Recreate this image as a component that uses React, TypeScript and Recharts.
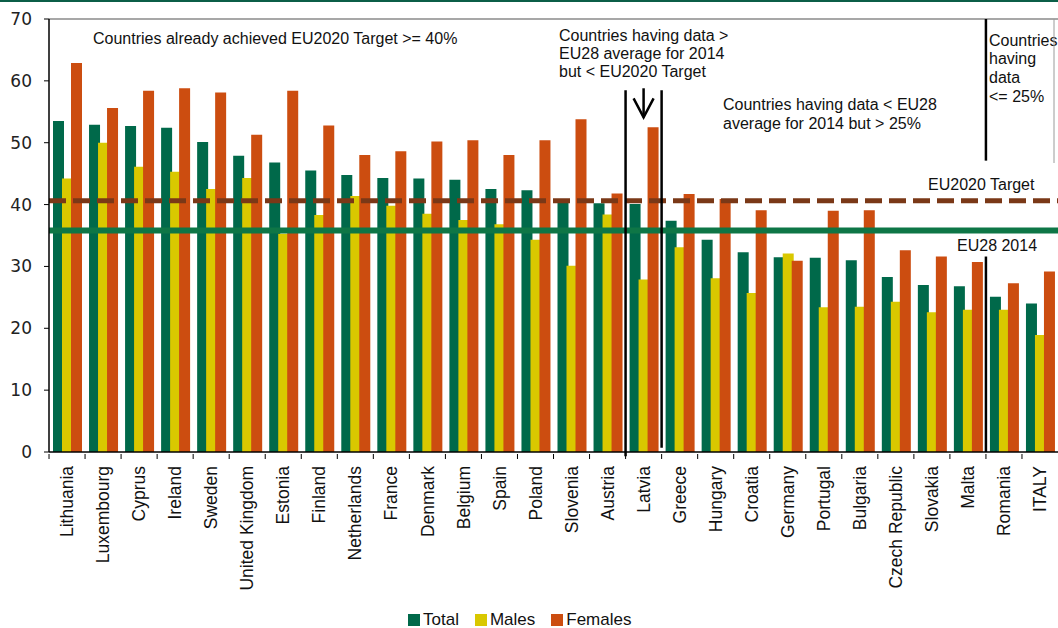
import React from "react"
import { BarChart, Bar, XAxis, YAxis, ReferenceLine } from "recharts"

const countries = [
  "Lithuania", "Luxembourg", "Cyprus", "Ireland", "Sweden", "United Kingdom", "Estonia",
  "Finland", "Netherlands", "France", "Denmark", "Belgium", "Spain", "Poland", "Slovenia",
  "Austria", "Latvia", "Greece", "Hungary", "Croatia", "Germany", "Portugal", "Bulgaria",
  "Czech Republic", "Slovakia", "Malta", "Romania", "ITALY",
]
const total = [
  53.5, 52.9, 52.7, 52.4, 50.1, 47.9, 46.8, 45.5, 44.8, 44.3, 44.2, 44.0, 42.5, 42.3,
  40.8, 40.2, 40.1, 37.4, 34.3, 32.3, 31.5, 31.4, 31.0, 28.3, 27.0, 26.8, 25.1, 24.0,
]
const males = [
  44.2, 50.0, 46.1, 45.3, 42.5, 44.3, 35.3, 38.3, 41.4, 39.8, 38.5, 37.5, 36.8, 34.3,
  30.1, 38.4, 27.9, 33.1, 28.1, 25.7, 32.1, 23.4, 23.5, 24.3, 22.6, 23.0, 23.0, 18.9,
]
const females = [
  62.9, 55.6, 58.4, 58.8, 58.1, 51.3, 58.4, 52.8, 48.0, 48.6, 50.2, 50.4, 48.0, 50.4,
  53.8, 41.8, 52.5, 41.7, 40.9, 39.1, 30.9, 39.0, 39.1, 32.6, 31.6, 30.7, 27.3, 29.2,
]
const yTicks = [0, 10, 20, 30, 40, 50, 60, 70]
const eu2020Target = 40.6
const eu28Average = 35.8

const GREEN = "#00694a"
const YELLOW = "#d9c800"
const ORANGE = "#cc4d10"
const FONT = "'Liberation Sans', Arial, sans-serif"

const data = countries.map((country, i) => ({
  country,
  total: total[i],
  males: males[i],
  females: females[i],
}))

// rotated category label + boundary tick (Excel style)
function CountryTick({ x, y, payload }: any) {
  const ty = y + 12
  return (
    <g>
      <line x1={x - 18} x2={x - 18} y1={y} y2={y + 5} stroke="#000" strokeWidth={1} />
      <text
        x={x}
        y={ty}
        dy="0.35em"
        textAnchor="end"
        transform={`rotate(-90, ${x}, ${ty})`}
        fontSize={17.5}
        fontFamily={FONT}
        fill="#111"
      >
        {payload.value}
      </text>
    </g>
  )
}

function DownArrow(props: any) {
  const { x1, y1, x2, y2 } = props
  return (
    <g>
      <line x1={x1} y1={y1} x2={x2} y2={y2} stroke="#000" strokeWidth={2.5} />
      <polyline
        points={`${x2 - 10},${y2 - 19} ${x2},${y2} ${x2 + 10},${y2 - 19}`}
        fill="none"
        stroke="#000"
        strokeWidth={2.5}
      />
    </g>
  )
}

const legendItems = [
  { name: "Total", color: GREEN },
  { name: "Males", color: YELLOW },
  { name: "Females", color: ORANGE },
]

export default function App() {
  return (
    <div style={{ position: "absolute", top: 0, left: 0, width: 1058, height: 628, background: "#fff", fontFamily: FONT }}>
      <div style={{ position: "absolute", top: 0, left: 0, width: 1058, height: 2, background: "#0b5e47" }} />
      <BarChart
        width={1058}
        height={628}
        data={data}
        margin={{ top: 19, right: 0, bottom: 0, left: 0 }}
        barSize={11}
        barGap={-2}
      >
        <XAxis
          dataKey="country"
          height={176}
          interval={0}
          tickSize={0}
          tickLine={false}
          axisLine={{ stroke: "#000", strokeWidth: 1.5 }}
          tick={<CountryTick />}
        />
        <YAxis
          width={49}
          domain={[0, 70]}
          ticks={yTicks}
          interval={0}
          tickSize={5}
          tickMargin={12}
          axisLine={{ stroke: "#000", strokeWidth: 1.5 }}
          tickLine={{ stroke: "#000" }}
          tick={{ fontSize: 17, fill: "#222", fontFamily: "'DejaVu Sans', sans-serif" }}
        />
        <ReferenceLine y={70} stroke="#8a8a8a" strokeWidth={1.5} />
        <Bar dataKey="total" name="Total" fill={GREEN} isAnimationActive={false} />
        <Bar dataKey="males" name="Males" fill={YELLOW} isAnimationActive={false} />
        <Bar dataKey="females" name="Females" fill={ORANGE} isAnimationActive={false} />
        <ReferenceLine y={eu2020Target} stroke="#7a3817" strokeWidth={5} strokeDasharray="17 7" />
        <ReferenceLine y={eu28Average} stroke="#0e7646" strokeWidth={6} />
        <ReferenceLine
          segment={[{ x: "Latvia", y: 58.5 }, { x: "Latvia", y: -0.7 }]}
          position="start"
          ifOverflow="visible"
          stroke="#000"
          strokeWidth={2.5}
        />
        <ReferenceLine
          segment={[{ x: "Greece", y: 58.5 }, { x: "Greece", y: 0.7 }]}
          position="start"
          ifOverflow="visible"
          stroke="#000"
          strokeWidth={2.5}
        />
        <ReferenceLine
          segment={[{ x: "Romania", y: 70 }, { x: "Romania", y: 47.1 }]}
          position="start"
          stroke="#000"
          strokeWidth={2.5}
        />
        <ReferenceLine
          segment={[{ x: "Romania", y: 31.6 }, { x: "Romania", y: 0 }]}
          position="start"
          stroke="#000"
          strokeWidth={2.5}
        />
        <ReferenceLine
          segment={[{ x: "Latvia", y: 58.8 }, { x: "Latvia", y: 54.1 }]}
          shape={<DownArrow />}
        />
      </BarChart>

      <svg
        width={1058}
        height={628}
        style={{ position: "absolute", top: 0, left: 0, pointerEvents: "none" }}
        fontFamily={FONT}
        fontSize={16}
        fill="#111"
      >
        <text x={93} y={44}>Countries already achieved EU2020 Target &gt;= 40%</text>
        <text x={559} y={41}>Countries having data &gt;</text>
        <text x={559} y={59}>EU28 average for 2014</text>
        <text x={559} y={77}>but &lt; EU2020 Target</text>
        <text x={723} y={110}>Countries having data &lt; EU28</text>
        <text x={723} y={129}>average for 2014 but &gt; 25%</text>
        <text x={989} y={46}>Countries</text>
        <text x={989} y={64}>having</text>
        <text x={989} y={83}>data</text>
        <text x={989} y={102}>&lt;= 25%</text>
        <text x={928} y={190}>EU2020 Target</text>
        <text x={957} y={251}>EU28 2014</text>
        <line x1={1054} x2={1054} y1={19} y2={163} stroke="#9a9a9a" strokeWidth={1} />
      </svg>

      <div
        style={{
          position: "absolute",
          top: 611,
          left: 408,
          display: "flex",
          alignItems: "center",
          fontSize: 17,
          color: "#111",
          lineHeight: "18px",
        }}
      >
        {legendItems.map((item) => (
          <div key={item.name} style={{ display: "flex", alignItems: "center", marginRight: 16 }}>
            <span style={{ display: "inline-block", width: 12, height: 12, background: item.color, marginRight: 3 }} />
            <span>{item.name}</span>
          </div>
        ))}
      </div>
    </div>
  )
}
